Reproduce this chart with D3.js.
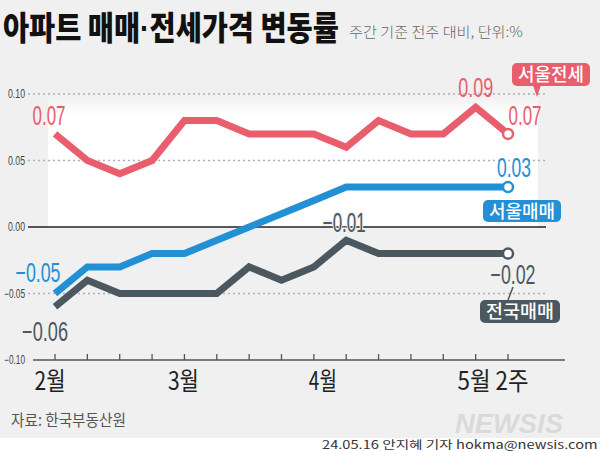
<!DOCTYPE html>
<html><head><meta charset="utf-8">
<script src="https://cdn.jsdelivr.net/npm/d3@7"></script>
<style>
html,body{margin:0;padding:0;background:#f0f0f0;}
svg{display:block;}
</style></head>
<body>
<svg id="chart" width="600" height="451"></svg>
<script>
// ---- data ----
const weeks = ["2월 1주","2월 2주","2월 3주","2월 4주","3월 1주","3월 2주","3월 3주","3월 4주",
               "4월 1주","4월 2주","4월 3주","4월 4주","4월 5주","5월 1주","5월 2주"];
const seoulJeonse = [0.07,0.05,0.04,0.05,0.08,0.08,0.07,0.07,0.07,0.06,0.08,0.07,0.07,0.09,0.07];
const seoulMaemae = [-0.05,-0.03,-0.03,-0.02,-0.02,-0.01,0.00,0.01,0.02,0.03,0.03,0.03,0.03,0.03,0.03];
const nationMaemae = [-0.06,-0.04,-0.05,-0.05,-0.05,-0.05,-0.03,-0.04,-0.03,-0.01,-0.02,-0.02,-0.02,-0.02,-0.02];
const yTicks = [0.10,0.05,0.00,-0.05,-0.10];
const xTickLabels = ["2월","3월","4월","5월 2주"];
const xTickIdx = [0,4,8,14];
const seriesNames = ["서울전세","서울매매","전국매매"];

const RED="#e85e6c", BLUE="#2390d6", GRAY="#4c5860";
const svg = d3.select("#chart");
const x = d3.scaleLinear().domain([0, weeks.length-1]).range([55, 508]);
const y = d3.scaleLinear().domain([-0.10, 0.10]).range([360, 94]);
const fmt = d3.format(".2f");

// text squeezed horizontally to a given width via transform
function fitText(parent, str, px, py, width, anchor, attrs){
  const t = parent.append("text").attr("x",0).attr("y",0).attr("text-anchor",anchor||"start");
  Object.entries(attrs).forEach(([k,v])=>t.attr(k,v));
  if (Array.isArray(str)) str.forEach(([s,ff])=>{ const ts=t.append("tspan").text(s); if(ff) ts.attr("font-family",ff); });
  else t.text(str);
  const L = t.node().getComputedTextLength();
  t.attr("transform",`translate(${px},${py}) scale(${width/L},1)`);
  return t;
}

// background
svg.append("rect").attr("width",600).attr("height",451).attr("fill","#f0f0f0");
const defs = svg.append("defs");
const g1 = defs.append("linearGradient").attr("id","pg").attr("x1",0).attr("y1",0).attr("x2",0).attr("y2",1);
g1.append("stop").attr("offset","0%").attr("stop-color","#f0f0f0");
g1.append("stop").attr("offset","17%").attr("stop-color","#ffffff");
g1.append("stop").attr("offset","100%").attr("stop-color","#ffffff");
svg.append("rect").attr("x",48).attr("y",y(0.10)).attr("width",490).attr("height",y(0)-y(0.10)).attr("fill","url(#pg)");

// title
fitText(svg,[["아파트 매매"],["·","'Liberation Sans'"],["전세가격 변동률"]],3,40,336,"start",
  {"font-family":"'Noto Sans CJK KR'","font-weight":900,"font-size":33,"fill":"#111"});
fitText(svg,"주간 기준 전주 대비, 단위:%",349,37,174,"start",
  {"font-family":"'Noto Sans CJK KR'","font-weight":300,"font-size":14,"fill":"#666"});

// grid
yTicks.forEach(t=>{
  if (t===0) svg.append("line").attr("x1",28).attr("x2",546).attr("y1",y(t)).attr("y2",y(t)).attr("stroke","#222").attr("stroke-width",1.5);
  else if (t>-0.1) svg.append("line").attr("x1",28).attr("x2",548).attr("y1",y(t)).attr("y2",y(t)).attr("stroke","#b0b0b0").attr("stroke-width",1.5).attr("stroke-dasharray","2,3");
  fitText(svg,fmt(t),25,y(t)+4,(t<0?21:17),"end",
    {"font-family":"'Liberation Sans'","font-size":12,"fill":"#444"});
});

// bottom axis
svg.append("line").attr("x1",33).attr("x2",565).attr("y1",y(-0.10)).attr("y2",y(-0.10)).attr("stroke","#555").attr("stroke-width",1.5);
weeks.forEach((w,i)=>{
  svg.append("line").attr("x1",x(i)).attr("x2",x(i)).attr("y1",y(-0.10)).attr("y2",y(-0.10)-6).attr("stroke","#555").attr("stroke-width",1.3);
});
const xlDx=[-5,-1,9,-15], xlW=[31,31,28,71];
xTickLabels.forEach((l,k)=>{
  fitText(svg,l,x(xTickIdx[k])+xlDx[k],390,xlW[k],"middle",
    {"font-family":"'Noto Sans CJK KR'","font-size":25,"fill":"#222"});
});

// lines
const line = d3.line().x((d,i)=>x(i)).y(d=>y(d));
const series = [[seoulJeonse,RED],[seoulMaemae,BLUE],[nationMaemae,GRAY]];
series.forEach(([arr,c])=>{
  svg.append("path").datum(arr).attr("d",line).attr("fill","none").attr("stroke",c).attr("stroke-width",7).attr("stroke-linejoin","miter");
});
series.forEach(([arr,c])=>{
  const i=arr.length-1;
  svg.append("circle").attr("cx",x(i)).attr("cy",y(arr[i])).attr("r",5).attr("fill","#fff").attr("stroke",c).attr("stroke-width",2.5);
});

// value labels
const ann = [
  [seoulJeonse,RED,0,-6,-9,33],[seoulJeonse,RED,13,0,-10,35],[seoulJeonse,RED,14,17,-9,33],
  [seoulMaemae,BLUE,14,6,-10,34],[seoulMaemae,BLUE,0,-17,-12,45],
  [nationMaemae,GRAY,0,-10,34,46],[nationMaemae,GRAY,9,-2,-8,43],[nationMaemae,GRAY,14,5,30,45]
];
ann.forEach(([arr,c,i,dx,dy,w])=>{
  fitText(svg,fmt(arr[i]),x(i)+dx,y(arr[i])+dy,w,"middle",
    {"font-family":"'Liberation Sans'","font-size":27,"fill":c,"stroke":"#f0f0f0",
     "stroke-width":(i===9)?3:0,"paint-order":"stroke"});
});

// legend tags
function tag(name,c,bx,by,bw,bh){
  svg.append("rect").attr("x",bx).attr("y",by).attr("width",bw).attr("height",bh).attr("rx",5).attr("fill",c);
  fitText(svg,name,bx+bw/2,by+bh/2+6.5,bw-12,"middle",
    {"font-family":"'Noto Sans CJK KR'","font-weight":500,"font-size":18,"fill":"#fff"});
}
tag(seriesNames[0],RED,512,63,78,23);
svg.append("path").attr("d","M533,85 L541,85 L537,97 Z").attr("fill",RED);
tag(seriesNames[1],BLUE,483,200,78,22);
tag(seriesNames[2],GRAY,480,300,80,23);
svg.append("line").attr("x1",513).attr("y1",287).attr("x2",508).attr("y2",300).attr("stroke",GRAY).attr("stroke-width",1.5);

// footer
fitText(svg,"자료: 한국부동산원",11,426,115,"start",
  {"font-family":"'Noto Sans CJK KR'","font-size":16,"fill":"#555"});
fitText(svg,"NEWSIS",455,433,108,"start",
  {"font-family":"'Liberation Sans'","font-weight":700,"font-style":"italic","font-size":28,"fill":"#dadada"});
svg.append("rect").attr("x",0).attr("y",438).attr("width",600).attr("height",13).attr("fill","#ffffff");
fitText(svg,"24.05.16 안지혜 기자 hokma@newsis.com",322,449,276,"start",
  {"font-family":"'Noto Sans CJK KR'","font-size":11.5,"fill":"#333"});
</script>
</body></html>
